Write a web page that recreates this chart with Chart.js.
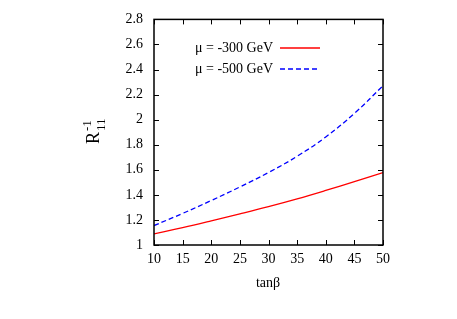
<!DOCTYPE html>
<html>
<head>
<meta charset="utf-8">
<script src="https://cdn.jsdelivr.net/npm/chart.js@4"></script>
<style>
  html, body { margin: 0; padding: 0; background: #fff; }
</style>
</head>
<body>
<canvas id="chart" width="457" height="319"></canvas>
<script>
const tanBeta = [10, 15, 20, 25, 30, 35, 40, 45, 50];
const mu300 = [1.088, 1.138, 1.192, 1.248, 1.306, 1.368, 1.435, 1.505, 1.577];
const mu500 = [1.155, 1.252, 1.355, 1.463, 1.578, 1.708, 1.862, 2.05, 2.27];
const seriesLabels = ['\u03bc = -300 GeV', '\u03bc = -500 GeV'];
const xTitle = 'tan\u03b2';

const serif = '"Liberation Serif", "Times New Roman", serif';
const area = { left: 154, top: 17, right: 383, bottom: 245 };

const framePlugin = {
  id: 'frame',
  afterDatasetsDraw(chart) {
    const { ctx, chartArea: ca, scales } = chart;
    ctx.save();
    ctx.strokeStyle = '#000';
    ctx.lineWidth = 1;
    const tl = 5;
    ctx.beginPath();
    scales.x.ticks.forEach(t => {
      const px = Math.round(scales.x.getPixelForValue(t.value)) + 0.5;
      ctx.moveTo(px, ca.bottom); ctx.lineTo(px, ca.bottom - tl);
      ctx.moveTo(px, ca.top); ctx.lineTo(px, ca.top + tl);
    });
    scales.y.ticks.forEach(t => {
      const py = Math.round(scales.y.getPixelForValue(t.value)) + 0.5;
      ctx.moveTo(ca.left, py); ctx.lineTo(ca.left + tl, py);
      ctx.moveTo(ca.right, py); ctx.lineTo(ca.right - tl, py);
    });
    ctx.stroke();
    ctx.lineWidth = 1.5;
    ctx.strokeRect(ca.left, ca.top, ca.right - ca.left, ca.bottom - ca.top);

    // legend: text then line sample
    ctx.font = '14px ' + serif;
    ctx.textAlign = 'right';
    ctx.textBaseline = 'middle';
    chart.data.datasets.forEach((ds, i) => {
      const y = 48 + i * 21;
      ctx.fillStyle = '#000';
      ctx.fillText(ds.label, 273, y);
      ctx.strokeStyle = ds.borderColor;
      ctx.lineWidth = ds.borderWidth;
      ctx.setLineDash(ds.borderDash || []);
      ctx.beginPath();
      ctx.moveTo(280, y); ctx.lineTo(320, y);
      ctx.stroke();
      ctx.setLineDash([]);
    });

    // axis titles
    ctx.fillStyle = '#000';
    ctx.textAlign = 'center';
    ctx.textBaseline = 'middle';
    ctx.font = '14px ' + serif;
    ctx.fillText(xTitle, 268, 283);

    ctx.translate(99, 144);
    ctx.rotate(-Math.PI / 2);
    ctx.textAlign = 'left';
    ctx.textBaseline = 'alphabetic';
    ctx.font = '18px ' + serif;
    ctx.fillText('R', 0, 0);
    const rw = ctx.measureText('R').width;
    ctx.font = '13px ' + serif;
    ctx.fillText('-1', rw + 1, -8);
    ctx.fillText('11', rw + 1, 6);
    ctx.restore();
  }
};

new Chart(document.getElementById('chart'), {
  type: 'line',
  data: {
    datasets: [
      {
        label: seriesLabels[0],
        data: tanBeta.map((x, i) => ({ x, y: mu300[i] })),
        borderColor: '#ff0000',
        borderWidth: 1.3,
        pointRadius: 0,
        tension: 0.4
      },
      {
        label: seriesLabels[1],
        data: tanBeta.map((x, i) => ({ x, y: mu500[i] })),
        borderColor: '#0000ff',
        borderWidth: 1.3,
        borderDash: [5, 3],
        pointRadius: 0,
        tension: 0.4
      }
    ]
  },
  options: {
    responsive: false,
    animation: false,
    devicePixelRatio: 1,
    layout: { padding: { left: 0, top: area.top, right: 457 - area.right, bottom: 0 } },
    scales: {
      x: {
        type: 'linear',
        min: 10, max: 50,
        grid: { display: false, drawTicks: false },
        border: { display: false },
        ticks: { stepSize: 5, maxRotation: 0, color: '#000', padding: 6, font: { family: serif, size: 14 } },
        afterFit(s) { s.height = 319 - area.bottom; }
      },
      y: {
        min: 1, max: 2.8,
        grid: { display: false, drawTicks: false },
        border: { display: false },
        ticks: {
          stepSize: 0.2, color: '#000', padding: 11, font: { family: serif, size: 14 },
          callback: v => String(Math.round(v * 10) / 10)
        },
        afterFit(s) { s.width = area.left; }
      }
    },
    plugins: { legend: { display: false }, tooltip: { enabled: false } }
  },
  plugins: [framePlugin]
});
</script>
</body>
</html>
